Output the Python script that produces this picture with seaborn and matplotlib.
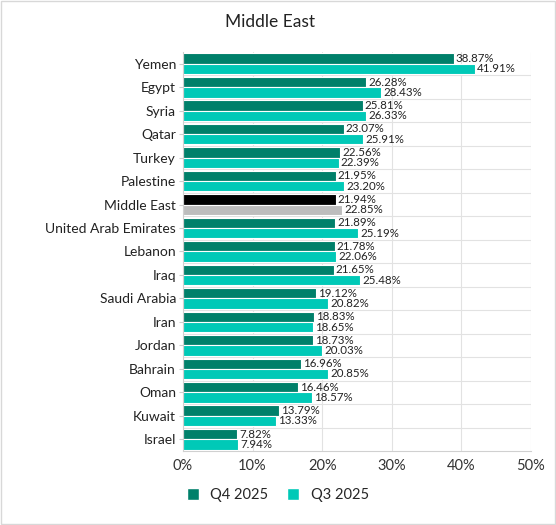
import pandas as pd
import seaborn as sns
import matplotlib.pyplot as plt
from matplotlib.patches import Patch

countries = ["Yemen", "Egypt", "Syria", "Qatar", "Turkey", "Palestine", "Middle East",
             "United Arab Emirates", "Lebanon", "Iraq", "Saudi Arabia", "Iran", "Jordan",
             "Bahrain", "Oman", "Kuwait", "Israel"]
q4_2025 = [38.87, 26.28, 25.81, 23.07, 22.56, 21.95, 21.94, 21.89, 21.78, 21.65,
           19.12, 18.83, 18.73, 16.96, 16.46, 13.79, 7.82]
q3_2025 = [41.91, 28.43, 26.33, 25.91, 22.39, 23.20, 22.85, 25.19, 22.06, 25.48,
           20.82, 18.65, 20.03, 20.85, 18.57, 13.33, 7.94]
periods = ["Q4 2025", "Q3 2025"]

dark = "#00806a"
light = "#00c9b7"

df = pd.DataFrame({"country": countries * 2,
                   "period": [periods[0]] * len(countries) + [periods[1]] * len(countries),
                   "value": q4_2025 + q3_2025})

sns.set_style("white")
plt.rcParams['font.family'] = ['Lato', 'DejaVu Sans']

fig = plt.figure(figsize=(5.56, 5.25), dpi=100)
ax = fig.add_axes([0.329, 0.141, 0.626, 0.760])

sns.barplot(data=df, y="country", x="value", hue="period", order=countries,
            hue_order=periods, palette=[dark, light], saturation=1, orient="h", width=0.88,
            edgecolor="white", linewidth=0.8, legend=False, ax=ax)

# Middle East row gets black / grey
me = countries.index("Middle East")
for i, cont in enumerate(ax.containers):
    cont[me].set_facecolor("black" if i == 0 else "#bdbdbd")
    vals = q4_2025 if i == 0 else q3_2025
    ax.bar_label(cont, labels=[f"{v:.2f}%" for v in vals], padding=1.5,
                 fontsize=8.3, color="#222222")

ax.set_xlim(0, 50)
ax.set_ylim(len(countries) - 0.5, -0.5)
ax.set_xticks([0, 10, 20, 30, 40, 50])
ax.set_xticklabels([f"{t}%" for t in [0, 10, 20, 30, 40, 50]])
ax.set_xlabel("")
ax.set_ylabel("")
ax.tick_params(axis="x", labelsize=10.5, colors="#333333", length=0, pad=6)
ax.tick_params(axis="y", labelsize=10, labelcolor="#222222", color="#cccccc",
               length=3, width=0.8, left=True, pad=2)

for x in [10, 20, 30, 40, 50]:
    ax.axvline(x, color="#e2e2e2", lw=0.8, zorder=0)
for k in range(len(countries) - 1):
    ax.axhline(k + 0.5, color="#e2e2e2", lw=0.8, zorder=0)

for s in ["top", "right"]:
    ax.spines[s].set_visible(False)
ax.spines["left"].set_color("#d0d0d0")
ax.spines["bottom"].set_color("#d0d0d0")

fig.text(0.485, 0.958, "Middle East", ha="center", va="center", fontsize=12.5, color="#222222")

handles = [Patch(facecolor=dark), Patch(facecolor=light)]
fig.legend(handles, periods, loc="center", bbox_to_anchor=(0.5, 0.057), ncol=2,
           frameon=False, fontsize=10.5, handlelength=0.8, handleheight=0.8,
           columnspacing=1.3, handletextpad=0.8)

fig.patches.append(plt.Rectangle((0.002, 0.002), 0.996, 0.996, transform=fig.transFigure,
                                 fill=False, edgecolor="#d8d8d8", lw=1))

fig.savefig("out.png", dpi=100)
